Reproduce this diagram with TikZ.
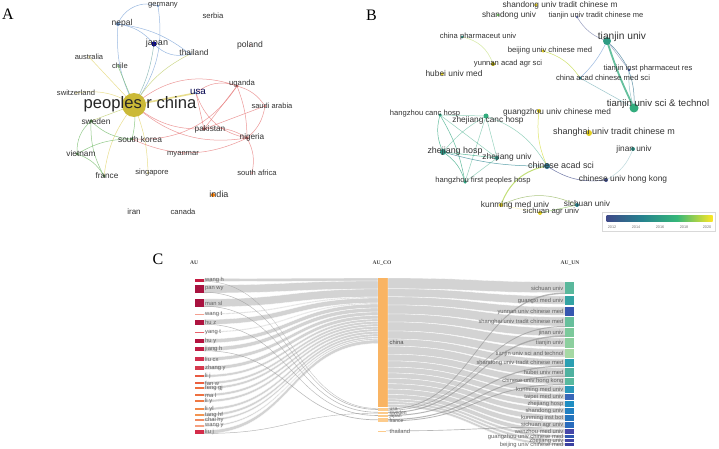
\documentclass[tikz,border=0pt]{standalone}
\usepackage{fontspec}
\setmainfont{Liberation Serif}
\setsansfont{Liberation Sans}
\pgfdeclarelayer{bg}
\pgfdeclarelayer{edges}
\pgfsetlayers{bg,edges,main}
\definecolor{eblue}{HTML}{7BA3D8}
\definecolor{egreen}{HTML}{6DB862}
\definecolor{eyellow}{HTML}{E2D46A}
\definecolor{ered}{HTML}{E77777}
\definecolor{chinaY}{HTML}{CBB937}
\definecolor{vir1}{HTML}{3E4A89}
\definecolor{vir2}{HTML}{26828E}
\definecolor{vir3}{HTML}{35B779}
\definecolor{vir4}{HTML}{FDE725}
\definecolor{coOrange}{HTML}{F9B463}
\definecolor{coLight}{HTML}{FCCB8C}
\newcommand{\flowband}[7][flow]{%
  \pgfmathsetmacro\xmid{(#2+#5)/2}%
  \fill[#1] (#2,#3) .. controls (\xmid,#3) and (\xmid,#6) .. (#5,#6)
    -- (#5,#7) .. controls (\xmid,#7) and (\xmid,#4) .. (#2,#4) -- cycle;}
\begin{document}
\begin{tikzpicture}[x=1pt,y=-1pt,
    dot/.style={circle,fill=#1,inner sep=0pt,minimum size=3pt},
    lbl/.style={font=\sffamily\fontsize{#1}{#1}\selectfont,text=black!80,inner sep=0pt},
    lbl/.default=7.6,
    edge/.style={draw=#1,line width=0.5pt,draw opacity=0.75},
    panel/.style={font=\fontsize{16}{16}\selectfont},
    flow/.style={fill=black!20,fill opacity=0.85,draw=white,line width=0.3pt},
    cross/.style={fill=black!40,fill opacity=0.7},
    sklbl/.style={font=\sffamily\fontsize{5.8}{6}\selectfont,text=black!62,inner sep=0.5pt},
    colbl/.style={font=\sffamily\fontsize{5}{5}\selectfont,text=black!62,inner sep=0.3pt},
    head/.style={font=\bfseries\fontsize{5.5}{6}\selectfont,text=black!75}]
\useasboundingbox (0,0) rectangle (719,449);
\begin{pgfonlayer}{bg}
\fill[white] (0,0) rectangle (719,449);
\end{pgfonlayer}

% A
\node[panel] (pA) at (8,14) {A};
\node[dot=eblue!90!black,minimum size=2.5pt] (germany) at (158,6) {};
\node[dot=eblue!90!black,minimum size=4pt] (nepal) at (118,24) {};
\node[dot=blue!60!black,minimum size=5pt] (japan) at (154,44) {};
\node[dot=eblue!90!black,minimum size=2.5pt] (thailand) at (190,54) {};
\node[dot=ered,minimum size=1.5pt] (poland) at (250,45) {};
\node[dot=eyellow,minimum size=1.5pt] (australia) at (89,57) {};
\node[dot=egreen,minimum size=2pt] (chile) at (118,66) {};
\node[dot=eyellow,minimum size=1.5pt] (switzerland) at (76,93) {};
\node[dot=eblue,minimum size=3pt] (usa) at (196,93) {};
\node[dot=ered!80!black,minimum size=3pt] (uganda) at (237,86) {};
\node[dot=ered,minimum size=2pt] (saudiarabia) at (265,106) {};
\node[dot=ered!80!black,minimum size=3.5pt] (pakistan) at (204,129) {};
\node[dot=ered!80!black,minimum size=3.5pt] (nigeria) at (247,138) {};
\node[dot=egreen!70!black,minimum size=3.5pt] (sweden) at (91,121) {};
\node[dot=egreen!70!black,minimum size=3pt] (southkorea) at (132,139) {};
\node[dot=egreen!70!black,minimum size=3pt] (vietnam) at (77,154) {};
\node[dot=ered,minimum size=1.5pt] (myanmar) at (183,154) {};
\node[dot=egreen!70!black,minimum size=3pt] (france) at (104,176) {};
\node[dot=eyellow,minimum size=2pt] (singapore) at (148,173) {};
\node[dot=ered,minimum size=2pt] (southafrica) at (252,173) {};
\node[dot=orange,minimum size=4pt] (india) at (213,195) {};
\node[dot=black!40,minimum size=1pt] (iran) at (134,212) {};
\node[dot=black!40,minimum size=1pt] (canada) at (183,212) {};
\node[dot=black!40,minimum size=1pt] (serbia) at (213,16) {};
\node[dot=chinaY,minimum size=24pt] (china) at (134,105) {};

\begin{pgfonlayer}{edges}
\draw[edge=eblue] (nepal.center) to[bend left=45] (germany.center);
\draw[edge=eblue] (germany.center) to[bend left=22] (china.center);
\draw[edge=eblue] (nepal.center) to[bend left=20] (japan.center);
\draw[edge=eblue] (japan.center) to[bend right=30] (thailand.center);
\draw[edge=eblue] (nepal.center) to[bend left=15] (thailand.center);
\draw[edge=eblue] (nepal.center) to[bend right=15] (china.center);
\draw[edge=eblue!60!egreen] (japan.center) to[bend left=10] (china.center);
\draw[edge=egreen] (chile.center) -- (china.center);
\draw[edge=eyellow!70!egreen] (thailand.center) to[bend right=15] (china.center);
\draw[edge=eyellow] (australia.center) -- (china.center);
\draw[edge=eyellow] (switzerland.center) to[bend left=20] (china.center);
\draw[edge=eyellow!70!egreen] (china.center) -- (sweden.center);
\draw[edge=eyellow] (china.center) to[bend right=15] (france.center);
\draw[edge=egreen] (china.center) to[bend left=10] (southkorea.center);
\draw[edge=eyellow] (china.center) to[bend left=10] (singapore.center);
\draw[edge=eyellow,line width=1.6pt] (china.center) -- (usa.center);
\draw[edge=egreen] (sweden.center) to[bend right=25] (vietnam.center);
\draw[edge=egreen] (vietnam.center) to[bend left=20] (france.center);
\draw[edge=egreen] (sweden.center) to[bend right=15] (france.center);
\draw[edge=egreen] (sweden.center) to[bend right=20] (southkorea.center);
\draw[edge=egreen] (vietnam.center) to[bend left=15] (southkorea.center);
\draw[edge=ered] (china.center) to[bend right=20] (pakistan.center);
\draw[edge=ered] (china.center) to[bend left=30] (uganda.center);
\draw[edge=ered] (china.center) to[bend right=25] (nigeria.center);
\draw[edge=ered] (usa.center) -- (pakistan.center);
\draw[edge=ered] (usa.center) to[bend left=30] (uganda.center);
\draw[edge=ered] (usa.center) to[bend right=30] (nigeria.center);
\draw[edge=ered] (pakistan.center) -- (uganda.center);
\draw[edge=ered] (pakistan.center) -- (saudiarabia.center);
\draw[edge=ered] (pakistan.center) to[bend left=20] (nigeria.center);
\draw[edge=ered] (uganda.center) to[bend left=20] (saudiarabia.center);
\draw[edge=ered] (uganda.center) to[bend left=10] (nigeria.center);
\draw[edge=ered] (nigeria.center) to[bend right=20] (saudiarabia.center);
\draw[edge=ered] (nigeria.center) to[bend left=20] (southafrica.center);
\draw[edge=ered] (southkorea.center) to[bend right=25] (nigeria.center);
\draw[edge=ered] (southkorea.center) to[bend right=30] (uganda.center);
\end{pgfonlayer}

\node[lbl] (germany-l) at (163,5) {germany};
\node[lbl=7.7] (serbia-l) at (213,16) {serbia};
\node[lbl=8.5] (nepal-l) at (122,23) {nepal};
\node[lbl=9] (japan-l) at (157,43) {japan};
\node[lbl=8.3] (thailand-l) at (194,53) {thailand};
\node[lbl=8.6] (poland-l) at (250,45) {poland};
\node[lbl=7.5] (australia-l) at (89,57) {australia};
\node[lbl] (chile-l) at (120,66) {chile};
\node[lbl] (switzerland-l) at (76,93) {switzerland};
\node[lbl=9.8,text=black!70!blue] (usa-l) at (198,92) {usa};
\node[lbl=7.7] (uganda-l) at (242,84) {uganda};
\node[lbl=7.5] (saudiarabia-l) at (272,106) {saudi arabia};
\node[lbl=16.6,text=black!85] (china-l) at (140,104) {peoples r china};
\node[lbl=8.4] (sweden-l) at (96,121) {sweden};
\node[lbl=8.2] (pakistan-l) at (210,129) {pakistan};
\node[lbl=8.2] (nigeria-l) at (252,137) {nigeria};
\node[lbl=8.4] (southkorea-l) at (140,139) {south korea};
\node[lbl=8.3] (vietnam-l) at (81,154) {vietnam};
\node[lbl] (myanmar-l) at (183,154) {myanmar};
\node[lbl=8.2] (france-l) at (107,176) {france};
\node[lbl] (singapore-l) at (152,173) {singapore};
\node[lbl] (southafrica-l) at (257,173) {south africa};
\node[lbl=9] (india-l) at (219,194) {india};
\node[lbl=8] (iran-l) at (134,212) {iran};
\node[lbl] (canada-l) at (183,212) {canada};

% B
\node[panel] (pB) at (371.5,15) {B};
\node[dot=vir4!85!black,minimum size=3.5pt] (sdtcm) at (536,5) {};
\node[dot=vir3!70!vir4,minimum size=3pt] (sdu) at (498,15) {};
\node[dot=vir1!80,minimum size=3pt] (tjtcm) at (577,17) {};
\node[dot=vir2!60!vir3,minimum size=3pt] (cpu) at (462,37) {};
\node[dot=vir2!50!vir3,minimum size=8pt] (tju) at (607,41) {};
\node[dot=vir4!90!black,minimum size=3.5pt] (bucm) at (543,51) {};
\node[dot=olive!80!vir4,minimum size=4pt] (yunnan) at (493,64) {};
\node[dot=vir4!90!black,minimum size=3.5pt] (hubei) at (442,74) {};
\node[dot=vir1,minimum size=3pt] (tjinst) at (629,70) {};
\node[dot=vir2,minimum size=3pt] (cacms) at (580,78) {};
\node[dot=vir3!80!vir2,minimum size=9pt] (tjust) at (634,108) {};
\node[dot=vir3!60!vir2,minimum size=3.5pt] (hzcanc) at (440,115) {};
\node[dot=vir3!80!vir2,minimum size=5pt] (zjcanc) at (486,116) {};
\node[dot=vir4!90!black,minimum size=4pt] (gzucm) at (539,111) {};
\node[dot=vir4!90!black,minimum size=6pt] (shutcm) at (589,133) {};
\node[dot=vir3!40!vir2,minimum size=6pt] (zjhosp) at (443,152) {};
\node[dot=vir2!70!vir3,minimum size=4pt] (zju) at (497,158) {};
\node[dot=vir2!70!vir3,minimum size=4pt] (jinan) at (633,149) {};
\node[dot=vir2!80!vir1,minimum size=6pt] (cas) at (547,166) {};
\node[dot=vir1,minimum size=4pt] (cuhk) at (606,180) {};
\node[dot=vir3!60!vir2,minimum size=3.5pt] (hzfirst) at (465,182) {};
\node[dot=vir4!90!black,minimum size=4pt] (kunming) at (501,205) {};
\node[dot=vir2,minimum size=4pt] (sichuan) at (577,205) {};
\node[dot=vir4!90!black,minimum size=4pt] (sau) at (540,213) {};

\begin{pgfonlayer}{edges}
\draw[edge=vir3!80!vir2,line width=1.8pt] (tju.center) to[bend right=4] (tjust.center);
\draw[edge=vir2!70!vir1] (tju.center) to[bend left=25] (tjust.center);
\draw[edge=vir1!70] (tju.center) to[bend left=20] (tjtcm.center);
\draw[edge=vir1!60] (tju.center) -- (tjinst.center);
\draw[edge=eblue] (tju.center) to[bend left=10] (cacms.center);
\draw[edge=vir2!60] (tjinst.center) to[bend right=10] (tjust.center);
\draw[edge=vir4!70!vir3] (cacms.center) to[bend right=20] (bucm.center);
\draw[edge=vir2!60] (cacms.center) -- (tjust.center);
\draw[edge=vir4!60!vir3,draw opacity=0.5] (cpu.center) to[bend left=30] (yunnan.center);
\draw[edge=vir3!70!vir2] (hzcanc.center) to[bend right=20] (zjhosp.center);
\draw[edge=vir3!70!vir2,draw opacity=0.5] (hzcanc.center) -- (zjcanc.center);
\draw[edge=vir3!70!vir2] (hzcanc.center) to[bend left=10] (hzfirst.center);
\draw[edge=vir3!70!vir2,draw opacity=0.5] (hzcanc.center) -- (zju.center);
\draw[edge=vir3!70!vir2,draw opacity=0.5] (zjcanc.center) to[bend right=10] (zjhosp.center);
\draw[edge=vir3!70!vir2,draw opacity=0.5] (zjcanc.center) -- (zju.center);
\draw[edge=vir3!70!vir2,draw opacity=0.5] (zjcanc.center) to[bend left=20] (cas.center);
\draw[edge=vir3!70!vir2,draw opacity=0.5] (zjcanc.center) -- (hzfirst.center);
\draw[edge=vir3!70!vir2] (zjhosp.center) -- (zju.center);
\draw[edge=vir3!70!vir2] (zjhosp.center) to[bend left=20] (hzfirst.center);
\draw[edge=vir2] (zjhosp.center) to[bend right=8] (cas.center);
\draw[edge=vir3!70!vir2,draw opacity=0.5] (zju.center) -- (hzfirst.center);
\draw[edge=vir4!80!vir3] (gzucm.center) to[bend right=15] (cas.center);
\draw[edge=vir1] (cas.center) to[bend right=20] (cuhk.center);
\draw[edge=vir2!40] (cuhk.center) to[bend right=20] (jinan.center);
\draw[edge=vir4!60!vir3,line width=1pt] (cas.center) to[bend right=30] (kunming.center);
\draw[edge=vir4!50!vir2] (kunming.center) to[bend left=25] (sichuan.center);
\draw[edge=vir3!60!vir4] (sichuan.center) -- (sau.center);
\draw[edge=vir4!70,draw opacity=0.4] (kunming.center) -- (sau.center);
\end{pgfonlayer}

\node[lbl=8.3] (sdtcm-l) at (560,5) {shandong univ tradit chinese m};
\node[lbl=8.3] (sdu-l) at (509,15) {shandong univ};
\node[lbl=7.5] (tjtcm-l) at (596,16) {tianjin univ tradit chinese me};
\node[lbl] (cpu-l) at (478,37) {china pharmaceut univ};
\node[lbl=10.2] (tju-l) at (622,37) {tianjin univ};
\node[lbl=7.7] (bucm-l) at (550,51) {beijing univ chinese med};
\node[lbl] (yunnan-l) at (508,64) {yunnan acad agr sci};
\node[lbl=8.4] (hubei-l) at (454,73) {hubei univ med};
\node[lbl] (tjinst-l) at (648,69) {tianjin inst pharmaceut res};
\node[lbl=7.65] (cacms-l) at (603,78) {china acad chinese med sci};
\node[lbl=9.6] (tjust-l) at (658,104) {tianjin univ sci \& technol};
\node[lbl] (hzcanc-l) at (425,114) {hangzhou canc hosp};
\node[lbl=8.3] (zjcanc-l) at (488,120) {zhejiang canc hosp};
\node[lbl=8.3] (gzucm-l) at (557,112) {guangzhou univ chinese med};
\node[lbl=9] (shutcm-l) at (614,132) {shanghai univ tradit chinese m};
\node[lbl=8.9] (zjhosp-l) at (455,151) {zhejiang hosp};
\node[lbl=8.4] (zju-l) at (507,157) {zhejiang univ};
\node[lbl=8.3] (jinan-l) at (634,149) {jinan univ};
\node[lbl=8.9] (cas-l) at (561,165) {chinese acad sci};
\node[lbl=8.4] (cuhk-l) at (623,179) {chinese univ hong kong};
\node[lbl] (hzfirst-l) at (483,181) {hangzhou first peoples hosp};
\node[lbl=8.4] (kunming-l) at (515,205) {kunming med univ};
\node[lbl=8.3] (sichuan-l) at (587,204) {sichuan univ};
\node[lbl=7.7] (sau-l) at (551,212) {sichuan agr univ};

% colour scale
\draw[black!15,line width=0.4pt] (602,212.3) rectangle (715,230.7);
\shade[left color=vir1,right color=vir2] (606.7,215) rectangle (642,221);
\shade[left color=vir2,right color=vir3] (642,215) rectangle (677,221);
\shade[left color=vir3,right color=vir4] (677,215) rectangle (712.7,221);
\foreach \yr/\xx in {2012/612,2014/636,2016/660,2018/684,2020/707}
  \node[font=\sffamily\fontsize{3.8}{4}\selectfont,text=black!55,inner sep=0pt] (yr\yr) at (\xx,227.5) {\yr};

% C
\node[panel] (pC) at (158,259) {C};
\node[head] (hAU) at (194,263) {AU};
\node[head] (hCO) at (382,263) {AU\_CO};
\node[head] (hUN) at (570,263) {AU\_UN};

% authors -> countries
\foreach \nm/\yc/\h/\ct/\hx [count=\i] in {
    wang h/280/3/278/C61B42, pan wy/289/8/281/A8123F, man sl/303/8/289/A8123F,
    wang t/314/1/297/F4A090, hu z/322/5/298/AE1440, yang t/332/1/303/E8606A,
    hu y/341/4/304/B3123F, jiang h/349/4/308/BF1C44, liu cx/359/3.5/312/D22F4E,
    zhang y/368/3.5/315.5/D63A4E, li j/376/2.5/319/E85A42, fan w/383/2.5/321.5/EA6040,
    feng gj/388/2.5/324/EE7040, ma l/395/2.5/326.5/EE7040, li y/401/2.5/329/EF7842,
    li yl/409/2.5/331.5/F28848, tang hf/415/2.5/334/F39450, chai hy/420/2/336.5/F08A60,
    wang y/426/1.5/338.5/F6A080, liu j/432/3.5/340/D42C4A} {
  \pgfmathsetmacro\ya{\yc-\h/2}
  \pgfmathsetmacro\yb{\yc+\h/2}
  \pgfmathsetmacro\cb{\ct+\h}
  \flowband{204}{\ya}{\yb}{378}{\ct}{\cb}
  \definecolor{aucol}{HTML}{\hx}
  \fill[aucol] (195,\ya) rectangle (204,\yb);
  \node[sklbl,anchor=west] (au\i) at (204.5,\yc) {\nm};
}
\flowband[cross]{204}{281.2}{281.6}{378}{408.3}{408.7}
\flowband[cross]{204}{292}{292.5}{378}{409.2}{409.8}
\flowband[cross]{204}{306}{306.5}{378}{412}{412.6}
\flowband[cross]{204}{324}{324.5}{378}{415.2}{415.8}
\flowband[cross]{204}{350.5}{351}{378}{419.5}{420.2}
\flowband[cross]{204}{433.2}{433.7}{378}{413}{413.4}

% countries
\fill[coOrange] (378,278) rectangle (388,407);
\fill[coLight] (378,408) rectangle (388,410.8);
\fill[coLight] (378,411.5) rectangle (388,414);
\fill[coLight] (378,414.7) rectangle (388,417);
\fill[coLight] (378,418) rectangle (388,422);
\fill[coLight] (378,430.6) rectangle (386,431.3);

% countries -> affiliations
\foreach \ct/\cb/\ut/\ub in {
    278/288.75/282/294, 288.75/296.8/296/305, 296.8/304.9/307/316,
    304.9/313.9/317/327, 313.9/321.9/328/337, 321.9/330.9/338/348,
    330.9/339/349/358, 339/346.1/359/367, 346.1/354.2/368/377,
    354.2/360.9/377.5/385, 360.9/367.2/386/393, 367.2/373/393.5/400,
    373/378.4/401/407, 378.4/383.8/408/414, 383.8/389.1/415/421,
    389.1/394.5/422/428, 394.5/399/429/434, 399/401.7/435/438,
    401.7/404.4/439/442, 404.4/407/443/446} {
  \pgfmathsetmacro\ue{\ut+\cb-\ct}
  \flowband{388}{\ct}{\cb}{565}{\ut}{\ue}
}
\flowband[cross]{388}{408.5}{409.5}{565}{292.6}{294}
\flowband[cross]{388}{410}{410.6}{565}{326}{327}
\flowband[cross]{388}{412}{413}{565}{335.4}{336.8}
\flowband[cross]{388}{415}{416}{565}{365.6}{366.8}
\flowband[cross]{388}{419}{420}{565}{375.6}{376.8}
\flowband[cross]{388}{420.5}{421.3}{565}{384}{385}
\flowband[cross]{386}{430.6}{431.2}{565}{426.6}{427.4}

\node[sklbl,text=black!70,anchor=west] (co1) at (389,342) {china};
\node[colbl,anchor=west] (co2) at (389,409.3) {usa};
\node[colbl,anchor=west] (co3) at (389,412.8) {sweden};
\node[colbl,anchor=west] (co4) at (389,416.5) {japan};
\node[colbl,anchor=west] (co5) at (389,421) {france};
\node[sklbl,anchor=west] (co6) at (389,431) {thailand};

\foreach \nm/\ut/\ub/\hx [count=\i] in {
    sichuan univ/282/294/5AB89C, guangxi med univ/296/305/33A3A3,
    yunnan univ chinese med/307/316/3657B0, shanghai univ tradit chinese med/317/327/67BF9C,
    jinan univ/328/337/7CC99B, tianjin univ/338/348/8CCF9E,
    tianjin univ sci and technol/349/358/A5D8A3, shandong univ tradit chinese med/359/367/2B9FB2,
    hubei univ med/368/377/4FB1A0, chinese univ hong kong/377.5/385/59B99E,
    kunming med univ/386/393/2A98BA, taipei med univ/393.5/400/3866B8,
    zhejiang hosp/401/407/1F8EC2, shandong univ/408/414/2280C1,
    kunming inst bot/415/421/2474BD, sichuan agr univ/422/428/2A6CBD,
    wenzhou med univ/429/434/4747A8, guangzhou univ chinese med/435/438/2F57B0,
    zhejiang univ/439/442/4145A5, beijing univ chinese med/443/446/3B40A0} {
  \definecolor{uncol}{HTML}{\hx}
  \fill[uncol] (565,\ut) rectangle (574,\ub);
  \pgfmathsetmacro\um{(\ut+\ub)/2}
  \node[sklbl,anchor=east] (un\i) at (564,\um) {\nm};
}
\end{tikzpicture}
\end{document}
